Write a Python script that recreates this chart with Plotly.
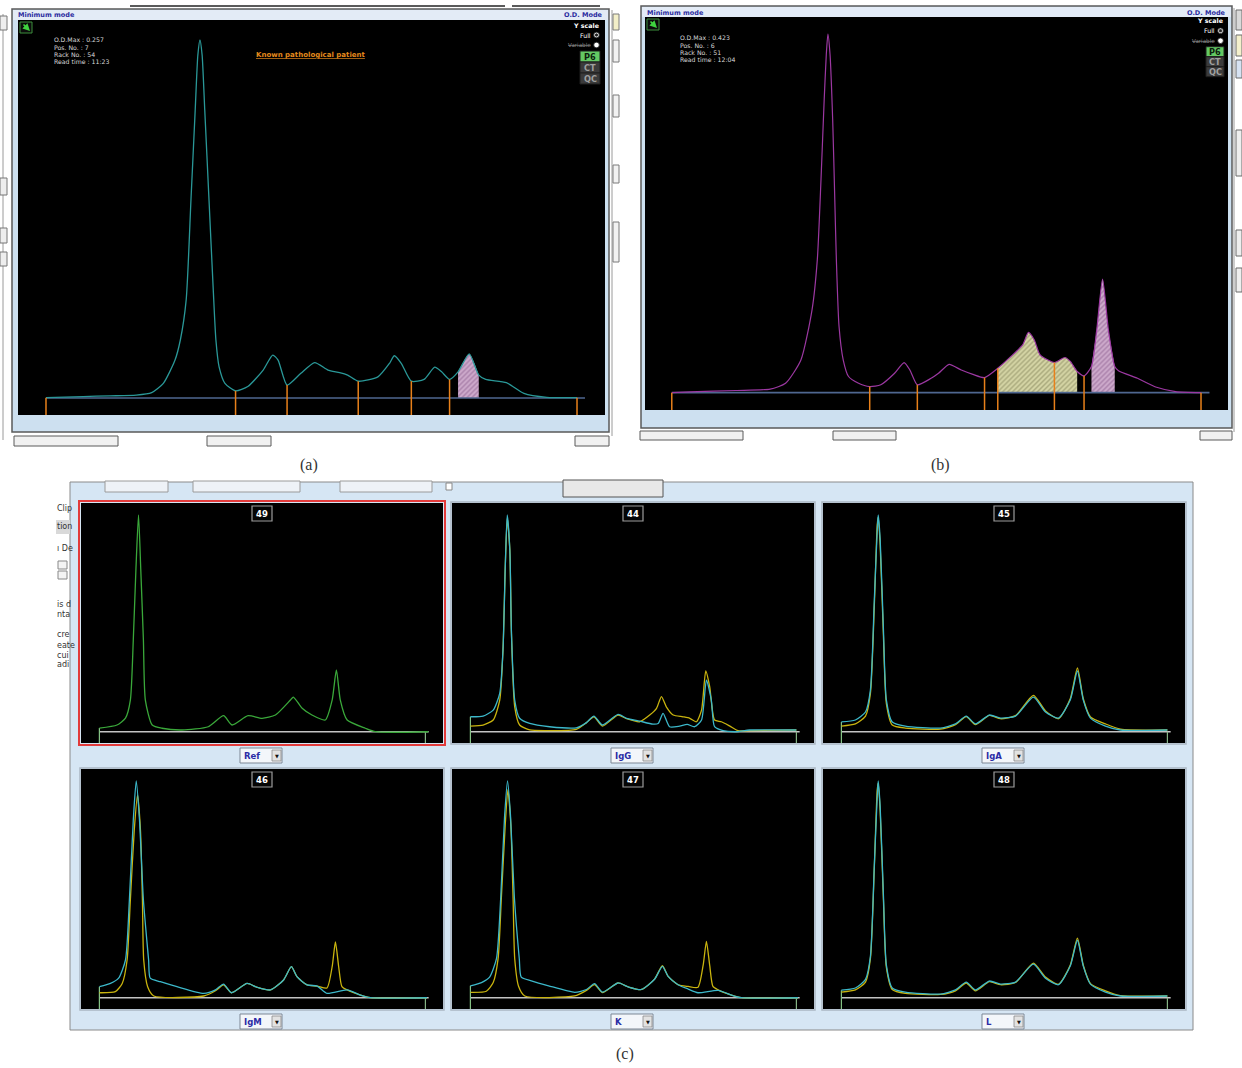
import plotly.graph_objects as go

W, H = 1242, 1068

# ============================== DATA ==============================
# (a) Known pathological patient - relative migration (0..100) vs % of O.D. max
a_pos = [0, 7.0, 12.0, 17.0, 19.9, 22.1, 24.3, 25.3, 26.4, 27.3,
         28.1, 28.6, 29.0, 29.4, 29.9, 30.7, 31.5, 32.0, 32.6, 33.7,
         35.7, 38.0, 40.9, 42.7, 43.7, 45.4, 48.0, 50.6, 53.1, 55.3,
         56.8, 58.8, 62.5, 64.7, 65.6, 66.9, 68.8, 71.2, 73.2, 74.5,
         76.0, 77.6, 79.7, 81.5, 82.8, 86.7, 90.0, 94.3, 100]
a_od = [0.1, 0.4, 0.6, 0.8, 1.5, 4.1, 10.6, 16.2, 27.4, 55.3,
        80.4, 95.8, 100, 95.8, 80.4, 55.3, 30.2, 16.2, 8.7, 4.1,
        2.0, 3.2, 7.8, 12.0, 10.6, 3.6, 6.9, 9.9, 7.8, 7.1,
        6.4, 4.7, 5.9, 9.7, 11.8, 9.7, 4.7, 5.2, 8.6, 7.3,
        5.2, 7.3, 12.3, 6.4, 5.2, 4.3, 1.3, 0.2, 0.1]
a_limits = [0, 35.7, 45.4, 58.8, 68.8, 76.0, 100]
a_spike = [77.6, 81.5]
a_info = ["O.D.Max : 0.257", "Pos. No. : 7", "Rack No. : 54", "Read time : 11:23"]

# (b) second patient
b_pos = [0, 3.4, 12.1, 18.6, 21.5, 24.4, 26.5, 27.5, 28.2, 28.8,
         29.2, 29.5, 29.9, 30.4, 30.8, 31.1, 31.6, 32.4, 33.4, 35.2,
         37.4, 39.5, 42.1, 43.9, 45.0, 46.4, 49.0, 50.4, 52.4, 54.7,
         56.9, 59.1, 61.6, 64.1, 66.3, 67.4, 68.5, 69.6, 72.3, 74.3,
         75.3, 76.6, 77.9, 79.3, 80.3, 81.4, 82.5, 83.7, 84.4, 88.0,
         91.6, 95.2, 100]
b_od = [0, 0.2, 0.6, 1.0, 2.6, 9.1, 23.1, 37.1, 59.5, 81.8,
        94.4, 100, 94.4, 76.2, 53.9, 37.1, 18.5, 9.1, 4.5, 2.7,
        1.7, 2.2, 5.4, 8.4, 6.3, 2.2, 4.0, 5.4, 7.9, 6.3,
        5.1, 4.2, 6.8, 10.1, 13.3, 16.8, 14.7, 10.5, 8.4, 9.8,
        8.7, 5.9, 4.7, 7.3, 17.5, 31.7, 17.5, 7.3, 6.1, 4.0,
        1.5, 0.3, 0]
b_limits = [0, 37.4, 46.4, 59.1, 61.6, 72.3, 77.9, 100]
b_band = [61.6, 76.6]
b_spike = [79.3, 83.7]
b_info = ["O.D.Max : 0.423", "Pos. No. : 6", "Rack No. : 51", "Read time : 12:04"]

# (c) immunosubtraction panels
panel_numbers = ["49", "44", "45", "46", "47", "48"]
panel_menus = ["Ref", "IgG", "IgA", "IgM", "K", "L"]

ref_x = [0, 5.4, 8.0, 9.5, 10.4, 11.2, 12.0, 12.7, 13.5, 14.1, 16.2, 19.2, 25.4, 33.4,
         38.1, 40.7, 45.6, 49.9, 54.0, 58.6, 59.5, 62.2, 65.2, 69.3, 71.4, 72.7, 73.9,
         76.0, 81.6, 84.7, 100.9]
ref_y = [1.7, 3.1, 6.3, 14.6, 42.3, 74.6, 100, 74.6, 42.3, 14.6, 3.1, 1.6, 0.8, 2.3,
         7.4, 3.1, 7.4, 6.2, 7.7, 14.6, 16.0, 10.8, 7.7, 5.4, 14.6, 28.5, 14.6,
         5.4, 1.6, 0, 0]

igg_cyan_x = [0, 3.9, 7.0, 9.0, 10.0, 10.7, 11.3, 12.1, 12.6, 13.6, 15.1, 18.2, 24.3, 32.5,
              35.6, 37.9, 40.5, 45.3, 47.9, 51.9, 56.0, 57.6, 59.1, 61.1, 64.2, 66.5, 68.8,
              70.9, 72.4, 73.9, 74.9, 77.5, 81.6, 85.7, 100]
igg_cyan_y = [6.9, 7.2, 10.0, 17.7, 37.7, 76.2, 100, 83.8, 45.4, 14.6, 6.2, 3.8, 2.3, 1.8,
              4.2, 7.2, 3.1, 8.0, 6.2, 4.9, 3.5, 3.8, 8.5, 2.3, 2.6, 3.4, 2.3,
              5.4, 23.8, 14.6, 2.3, 0.5, 0, 0.8, 0.8]
igg_yellow_x = [0, 3.9, 7.0, 9.0, 10.0, 10.7, 11.3, 12.1, 12.6, 13.6, 15.1, 18.2, 24.3, 32.5,
                35.6, 37.9, 40.5, 45.3, 47.9, 51.9, 55.0, 57.1, 58.6, 60.1, 62.2, 65.2, 67.3,
                69.3, 70.9, 72.2, 73.4, 74.9, 77.0, 79.6, 82.1, 85.7, 100]
igg_yellow_y = [2.6, 3.1, 5.4, 14.6, 37.7, 76.2, 98.5, 83.8, 45.4, 11.5, 3.1, 0.8, 0.5, 1.1,
                4.2, 6.9, 2.6, 7.7, 6.0, 4.6, 7.7, 10.8, 16.2, 11.5, 7.7, 6.9, 6.2,
                4.6, 10.0, 28.0, 20.8, 5.4, 4.6, 2.6, 0.5, 0.5, 0.8]

iga_x = [0, 4.3, 7.4, 8.9, 10.1, 11.0, 11.3, 11.9, 12.9, 13.8, 15.6, 19.6, 30.4, 35.0,
         38.3, 41.1, 45.4, 48.8, 53.4, 58.9, 62.6, 66.6, 70.2, 72.4, 74.2, 76.4, 81.0,
         85.6, 100]
iga_cyan_y = [4.5, 5.4, 9.1, 19.2, 60.8, 93.1, 100, 88.5, 46.9, 14.6, 4.5, 2.6, 1.7, 3.6,
              7.2, 3.6, 7.7, 6.3, 7.2, 16.0, 9.1, 6.3, 14.6, 28.0, 14.6, 6.3, 2.6,
              0.8, 0.8]
iga_yellow_y = [2.6, 3.6, 7.2, 17.5, 58.0, 95.5, 99.0, 86.0, 44.0, 13.0, 3.1, 1.7, 1.2, 3.2,
                7.0, 3.3, 7.5, 6.0, 7.4, 16.8, 9.6, 6.0, 15.2, 29.4, 15.2, 6.8, 3.6,
                1.2, 0.8]

igm_cyan_x = [0, 3.4, 5.9, 8.0, 9.2, 10.4, 11.3, 12.3, 13.5, 15.1, 15.6, 18.7, 23.8, 32.0,
              35.6, 38.1, 40.5, 45.3, 48.4, 52.5, 56.5, 58.9, 60.6, 63.7, 66.8, 69.8, 76.0,
              80.1, 83.1, 100.5]
igm_cyan_y = [5.1, 6.6, 9.0, 17.4, 45.1, 82.0, 100, 82.0, 45.1, 17.4, 9.0, 7.4, 5.1, 2.0,
              3.6, 6.3, 2.3, 6.6, 4.8, 3.6, 8.2, 14.3, 9.7, 5.9, 5.4, 2.0, 3.6,
              1.2, 0, 0]
igm_yellow_x = [0, 4.9, 7.0, 8.5, 9.5, 10.7, 11.7, 12.6, 13.2, 13.6, 14.8, 16.7, 32.0, 35.6,
                38.1, 40.5, 45.3, 48.4, 52.5, 56.5, 58.9, 60.6, 63.7, 66.8, 69.8, 71.4, 72.4,
                73.4, 74.4, 76.0, 80.1, 83.1, 100.5]
igm_yellow_y = [2.3, 2.8, 6.6, 17.4, 45.1, 77.4, 93.6, 77.4, 45.1, 17.4, 5.1, 0.8, 0.8, 3.2,
                5.9, 2.3, 6.6, 4.8, 3.6, 8.2, 14.3, 9.7, 5.9, 5.4, 4.5, 14.3, 25.7,
                14.3, 5.1, 3.6, 1.2, 0, 0]

kappa_cyan_x = [0, 3.4, 5.9, 8.0, 9.3, 10.5, 11.4, 12.3, 13.5, 15.0, 15.6, 18.7, 24.0, 32.0,
                35.6, 38.1, 40.5, 45.3, 48.4, 52.5, 56.5, 58.9, 60.6, 63.7, 66.8, 69.8, 76.0,
                80.1, 83.1, 100.5]
kappa_cyan_y = [5.5, 7.0, 9.5, 18.0, 46.0, 84.0, 100, 84.0, 46.0, 18.0, 9.5, 7.8, 5.5, 2.5,
                3.8, 6.5, 2.6, 6.8, 5.0, 3.8, 8.5, 14.5, 10.0, 6.0, 4.0, 2.3, 3.4,
                1.2, 0, 0]
kappa_yellow_x = [0, 4.9, 7.0, 8.5, 9.5, 10.7, 11.5, 12.4, 13.1, 13.6, 14.8, 16.7, 32.0, 35.6,
                  38.1, 40.5, 45.3, 48.4, 52.5, 56.5, 58.9, 60.6, 63.7, 66.8, 69.8, 71.4, 72.4,
                  73.4, 74.4, 76.0, 80.1, 83.1, 100.5]
kappa_yellow_y = [2.5, 3.0, 7.0, 18.0, 46.0, 80.0, 96.0, 80.0, 46.0, 18.0, 5.2, 0.8, 0.8, 3.4,
                  6.0, 2.4, 6.8, 5.0, 3.8, 8.6, 14.8, 10.0, 6.0, 5.2, 4.8, 15.0, 26.0,
                  15.0, 5.2, 3.6, 1.2, 0, 0]

lambda_x = [0, 4.3, 7.4, 8.9, 10.1, 11.0, 11.3, 11.9, 12.9, 13.8, 15.6, 19.6, 30.4, 35.0,
            38.3, 41.1, 45.4, 48.8, 53.4, 58.9, 62.6, 66.6, 70.2, 72.4, 74.2, 76.4, 81.0,
            85.6, 100]
lambda_cyan_y = [3.5, 4.5, 8.5, 19.0, 61.0, 93.0, 100, 88.0, 47.0, 15.0, 4.5, 2.6, 1.7, 3.6,
                 7.2, 3.6, 7.7, 6.3, 7.2, 15.5, 9.0, 6.0, 14.6, 26.5, 14.6, 6.3, 2.6,
                 0.8, 0.8]
lambda_yellow_y = [2.6, 3.6, 7.2, 18.0, 60.0, 96.0, 99.0, 86.0, 45.0, 14.0, 3.8, 2.0, 1.5, 3.2,
                   6.8, 3.2, 7.4, 6.0, 7.0, 16.0, 9.5, 6.2, 15.0, 27.5, 15.0, 6.5, 3.2,
                   1.0, 0.8]

left_fragments = ["Clip", "tion", "ı De", "is d", "nta", "cre", "eate", "cui", "adi"]

# ============================== LAYOUT HELPERS ==============================
def fx(x):
    return x / W


def fy(y):
    return 1 - y / H


fig = go.Figure()
shapes = []
annotations = []
layout = {}

UI_FONT = "DejaVu Sans"


def rect(x0, y0, x1, y1, fill=None, line=None, lw=1.0, layer="below"):
    shapes.append(dict(type="rect", xref="paper", yref="paper",
                       x0=fx(x0), x1=fx(x1), y0=fy(y1), y1=fy(y0),
                       fillcolor=fill if fill else "rgba(0,0,0,0)",
                       line=dict(color=line if line else "rgba(0,0,0,0)",
                                 width=lw if line else 0),
                       layer=layer))


def pline(x0, y0, x1, y1, color, lw=1.0, layer="below"):
    shapes.append(dict(type="line", xref="paper", yref="paper",
                       x0=fx(x0), x1=fx(x1), y0=fy(y0), y1=fy(y1),
                       line=dict(color=color, width=lw), layer=layer))


def circle(cx, cy, r, fill, line="#222", layer="above"):
    shapes.append(dict(type="circle", xref="paper", yref="paper",
                       x0=fx(cx - r), x1=fx(cx + r), y0=fy(cy + r), y1=fy(cy - r),
                       fillcolor=fill, line=dict(color=line, width=0.8), layer=layer))


def text(x, y, s, size=7, color="#dddddd", anchor="left", family=UI_FONT):
    annotations.append(dict(xref="paper", yref="paper", x=fx(x), y=fy(y), text=s,
                            showarrow=False, xanchor=anchor, yanchor="middle",
                            borderpad=0,
                            font=dict(size=size, color=color, family=family)))


def add_axes(i, x0, x1, y0, y1, xr, yr):
    s = "" if i == 1 else str(i)
    rect(x0, y0, x1, y1, fill="#000000")
    layout["xaxis" + s] = dict(domain=[fx(x0), fx(x1)], range=xr, visible=False,
                               fixedrange=True, anchor="y" + s)
    layout["yaxis" + s] = dict(domain=[fy(y1), fy(y0)], range=yr, visible=False,
                               fixedrange=True, anchor="x" + s)
    return ("x" + s, "y" + s)


def curve(xs, ys, color, ax, width=1.2, smooth=0.6):
    fig.add_trace(go.Scatter(x=xs, y=ys, mode="lines",
                             line=dict(color=color, width=width, shape="spline",
                                       smoothing=smooth),
                             xaxis=ax[0], yaxis=ax[1], hoverinfo="skip", showlegend=False))


def straight(xs, ys, color, ax, width=1.2):
    fig.add_trace(go.Scatter(x=xs, y=ys, mode="lines", line=dict(color=color, width=width),
                             xaxis=ax[0], yaxis=ax[1], hoverinfo="skip", showlegend=False))


def hatched(xs, ys, span, bg, fg, ax):
    sx = [x for x in xs if span[0] <= x <= span[1]]
    sy = [y for x, y in zip(xs, ys) if span[0] <= x <= span[1]]
    fig.add_trace(go.Scatter(x=sx, y=sy, mode="lines",
                             line=dict(width=0, shape="spline", smoothing=0.6),
                             fill="tozeroy", fillcolor=bg,
                             fillpattern=dict(shape="/", bgcolor=bg, fgcolor=fg,
                                              size=3.5, solidity=0.4),
                             xaxis=ax[0], yaxis=ax[1], hoverinfo="skip", showlegend=False))


def limit_lines(xs, ys, limits, ymin, ax):
    lx, ly = [], []
    for b in limits:
        lx += [b, b, None]
        ly += [ys[xs.index(b)], ymin, None]
    straight(lx, ly, "#e8801a", ax, width=1.5)


# ============================== PANEL (a) / (b) WINDOWS ==============================
def window(x0, y0, x1, y1, title_h, black, info, info_x, info_y, ctrl_x, ctrl_y, p_h):
    rect(x0 + 1, y0 + 1, x1 - 1, y0 + title_h, fill="#e3ebf6")
    text(x0 + 5, y0 + title_h / 2 + 1, "<b>Minimum mode</b>", 6.5, "#2b2ba0")
    text(x1 - 5, y0 + title_h / 2 + 1, "<b>O.D. Mode</b>", 6.5, "#2b2ba0", anchor="right")
    # arrow icon
    bx, by = black[0] + 2, black[2] + 2
    rect(bx, by, bx + 12, by + 11, fill="#0c0c0c", line="#3d8f3d", lw=1, layer="above")
    annotations.append(dict(xref="paper", yref="paper", x=fx(bx + 10), y=fy(by + 9),
                            ax=-8, ay=-8, text="", showarrow=True, arrowhead=2,
                            arrowsize=0.9, arrowwidth=1.6, arrowcolor="#3fd23f"))
    for k, s in enumerate(info):
        text(info_x, info_y + 7.3 * k, s, 6.2, "#d8d8d8")
    # Y scale controls
    cx = ctrl_x
    text(cx, ctrl_y, "<b>Y scale</b>", 6.3, "#ffffff", anchor="right")
    text(cx - 8, ctrl_y + 10, "Full", 6.2, "#ffffff", anchor="right")
    circle(cx - 3.5, ctrl_y + 10, 2.8, "#ffffff")
    circle(cx - 3.5, ctrl_y + 10, 1.3, "#222222")
    text(cx - 8, ctrl_y + 20, "<s>Variable</s>", 5.6, "#8a8a8a", anchor="right")
    circle(cx - 3.5, ctrl_y + 20, 2.8, "#ffffff")
    bw = 20 if p_h > 10 else 18
    for k, (lab, fill, col) in enumerate([("P6", "#63c963", "#0d200d"),
                                          ("CT", "#3b3b3b", "#a0a0a0"),
                                          ("QC", "#3b3b3b", "#a0a0a0")]):
        ty = ctrl_y + 26 + k * p_h
        rect(cx - bw, ty, cx, ty + p_h, fill=fill, line="#1e1e1e", lw=1, layer="above")
        text(cx - bw / 2, ty + p_h / 2 + 0.5, "<b>%s</b>" % lab, 8.2, col, anchor="center")


# (a)
rect(12, 9, 609, 432, fill="#cde0f0", line="#5a5a5a", lw=1.5)
ax_a = add_axes(1, 18, 605, 20, 415, [-5.27, 105.27], [-4.75, 105.58])
window(12, 9, 609, 432, 11, (18, 605, 20, 415), a_info, 53, 40, 600, 25, 11)
text(311, 55, "<b><u>Known pathological patient</u></b>", 7, "#e58a1c", anchor="center")
# (b)
rect(641, 6, 1232, 428, fill="#cde0f0", line="#5a5a5a", lw=1.5)
ax_b = add_axes(2, 645, 1228, 17, 410, [-5.06, 105.10], [-4.84, 104.77])
window(641, 6, 1232, 428, 11, (645, 1228, 17, 410), b_info, 679, 37.7, 1224, 20.7, 10)

# chrome pieces around windows
pline(130, 6, 505, 6, "#5a5a5a", 2)
pline(512, 6, 600, 6, "#5a5a5a", 2)
pline(3, 14, 3, 440, "#9a9a9a", 1)
for (yy0, yy1) in [(16, 30), (178, 195), (228, 243), (252, 266)]:
    rect(0, yy0, 7, yy1, fill="#eeeeee", line="#777777")
pline(612, 10, 612, 436, "#9a9a9a", 1)
for (yy0, yy1, c) in [(14, 30, "#f3efc8"), (40, 62, "#f2f2f2"), (95, 117, "#f2f2f2"),
                      (165, 183, "#f2f2f2"), (222, 262, "#f2f2f2")]:
    rect(613, yy0, 619, yy1, fill=c, line="#7a7a7a")
pline(1234, 8, 1234, 432, "#9a9a9a", 1)
for (yy0, yy1, c) in [(10, 30, "#d9d9d9"), (35, 56, "#f4f0cc"), (60, 78, "#d6e2f2"),
                      (130, 176, "#eeeeee"), (230, 256, "#eeeeee"), (268, 292, "#eeeeee")]:
    rect(1236, yy0, 1242, yy1, fill=c, line="#6a6a6a")
for (xx0, xx1) in [(14, 118), (207, 271), (575, 609)]:
    rect(xx0, 436, xx1, 446, fill="#f1f1f1", line="#5a5a5a")
for (xx0, xx1) in [(640, 743), (833, 896), (1200, 1232)]:
    rect(xx0, 431, xx1, 440, fill="#f1f1f1", line="#5a5a5a")

# hatched fractions, baselines, curves, fraction limits
hatched(a_pos, a_od, a_spike, "#cfaccd", "#7f4e82", ax_a)
straight([0, 101.5], [0, 0], "#4f6790", ax_a, 1.6)
curve(a_pos, a_od, "#2a9898", ax_a, 1.3)
limit_lines(a_pos, a_od, a_limits, -4.75, ax_a)

hatched(b_pos, b_od, b_band, "#d6d6a6", "#77774e", ax_b)
hatched(b_pos, b_od, b_spike, "#cfaccd", "#7f4e82", ax_b)
straight([0, 101.6], [0, 0], "#4f6790", ax_b, 1.6)
curve(b_pos, b_od, "#9c38a2", ax_b, 1.2)
limit_lines(b_pos, b_od, b_limits, -4.84, ax_b)

# ============================== PANEL (c) ==============================
rect(56, 480, 70, 1032, fill="#ffffff")
rect(70, 482, 1193, 1030, fill="#d6e6f4", line="#8a8a8a", lw=1)
for (xx0, xx1) in [(105, 168), (193, 300), (340, 432)]:
    rect(xx0, 481, xx1, 492, fill="#eef2f7", line="#9a9a9a")
rect(446, 483, 452, 490, fill="#ffffff", line="#888888")
rect(563, 480, 663, 497, fill="#e8e8e8", line="#555555")
rect(56, 520, 70, 534, fill="#d9d9d9")
rect(58, 561, 67, 569, fill="#f4f4f4", line="#888888")
rect(58, 571, 67, 579, fill="#f4f4f4", line="#888888")
frag_y = [508, 527, 548, 604, 614, 634, 645, 655, 664]
for s, yy in zip(left_fragments, frag_y):
    text(56, yy, s, 8, "#333333")

cols = [(81, 443), (452, 814), (823, 1185)]
rows = [(503, 743), (769, 1009)]
c_xr = [-5.64, 105.4]
c_yr = [-5.2, 105.5]

c_series = [
    [(ref_x, ref_y, "#3aa83a")],
    [(igg_yellow_x, igg_yellow_y, "#c9b40e"), (igg_cyan_x, igg_cyan_y, "#3cb8ca")],
    [(iga_x, iga_yellow_y, "#c9b40e"), (iga_x, iga_cyan_y, "#3cb8ca")],
    [(igm_yellow_x, igm_yellow_y, "#c9b40e"), (igm_cyan_x, igm_cyan_y, "#3cb8ca")],
    [(kappa_yellow_x, kappa_yellow_y, "#c9b40e"), (kappa_cyan_x, kappa_cyan_y, "#3cb8ca")],
    [(lambda_x, lambda_yellow_y, "#c9b40e"), (lambda_x, lambda_cyan_y, "#3cb8ca")],
]

for k in range(6):
    r, c = divmod(k, 3)
    x0, x1 = cols[c]
    y0, y1 = rows[r]
    cx = (x0 + x1) / 2
    if k == 0:
        rect(x0 - 2, y0 - 2, x1 + 2, y1 + 2, line="#e23b3b", lw=2)
    else:
        rect(x0 - 1, y0 - 1, x1 + 1, y1 + 1, line="#aab6c2", lw=1.5)
    ax = add_axes(3 + k, x0, x1, y0, y1, c_xr, c_yr)
    series = c_series[k]
    start = max(s[1][0] for s in series)
    straight([0, 101], [0, 0], "#c4c4c4", ax, 1.4)
    straight([0, 0], [start, c_yr[0]], "#86c486", ax, 1.2)
    straight([100, 100], [0, c_yr[0]], "#86b486", ax, 1.2)
    for xs, ys, col in series:
        curve(xs, ys, col, ax, 1.3)
    # number tag
    rect(cx - 10, y0 + 3, cx + 10, y0 + 18, fill="#050505", line="#9c9c9c", lw=1.2,
         layer="above")
    text(cx, y0 + 11, "<b>%s</b>" % panel_numbers[k], 8.5, "#ffffff", anchor="center")
    # dropdown
    dy0 = y1 + 5
    rect(cx - 22, dy0, cx + 20, dy0 + 15, fill="#f3f6fa", line="#7d8795", lw=1)
    rect(cx + 10, dy0 + 2, cx + 19, dy0 + 13, fill="#e2e2e2", line="#8a8a8a", lw=0.8)
    text(cx - 19, dy0 + 8, "<b>%s</b>" % panel_menus[k], 8.5, "#2c2ca6")
    text(cx + 14.5, dy0 + 8, "▼", 5, "#111111", anchor="center")

# panel labels
for lab, (xx, yy) in zip(["(a)", "(b)", "(c)"], [(309, 465), (940, 465), (625, 1054)]):
    text(xx, yy, lab, 16, "#333333", anchor="center", family="Liberation Serif")

fig.update_layout(
    width=W, height=H, margin=dict(l=0, r=0, t=0, b=0),
    paper_bgcolor="#ffffff", plot_bgcolor="#000000",
    showlegend=False, shapes=shapes, annotations=annotations, **layout)

fig.write_html("out.html", config={"displayModeBar": False},
               post_script="document.body.style.margin='0';")
